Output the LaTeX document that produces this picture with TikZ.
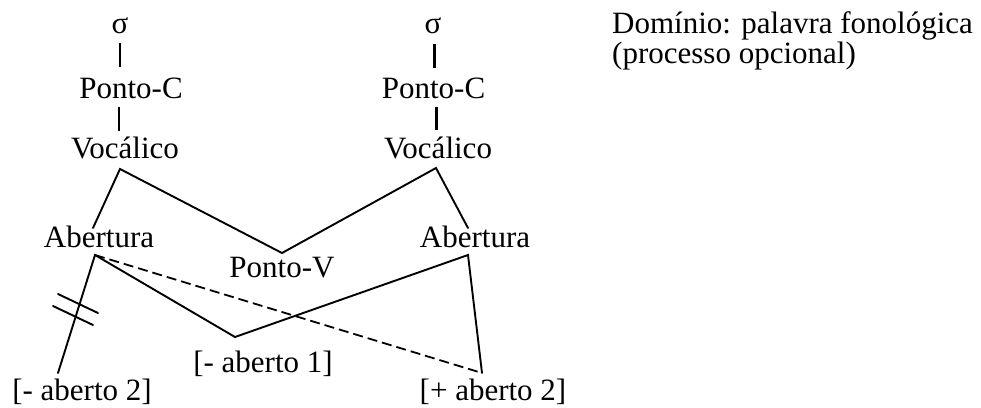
\documentclass[tikz,border=0pt]{standalone}
\usepackage{fontspec}
\setmainfont{Liberation Serif}
\begin{document}
\begin{tikzpicture}[x=1pt,y=-1pt,
  lbl/.style={anchor=base,inner sep=0pt,font=\fontsize{31}{30}\selectfont},
  ln/.style={line width=1.9pt,line cap=round},
  vln/.style={line width=2.4pt},
  dln/.style={line width=1.8pt,dash pattern=on 10pt off 5pt}]
\useasboundingbox (0,0) rectangle (981,407);
% left column
\node[lbl] (sigL) at (120,33) {σ};
\node[lbl] (pcL) at (131,98) {Ponto-C};
\node[lbl] (vocL) at (125,158) {Vocálico};
\node[lbl] (abL) at (99,247) {Abertura};
% right column
\node[lbl] (sigR) at (433,33) {σ};
\node[lbl] (pcR) at (433.5,98) {Ponto-C};
\node[lbl] (vocR) at (438,158) {Vocálico};
\node[lbl] (abR) at (475,247) {Abertura};
% middle and bottom
\node[lbl] (pv) at (282,277) {Ponto-V};
\node[lbl] (am1) at (263,372) {[- aberto 1]};
\node[lbl] (am2) at (82,400) {[- aberto 2]};
\node[lbl] (ap2) at (493,400) {[+ aberto 2]};
\node[lbl,anchor=base west] (dom1) at (612,33) {Domínio: palavra fonológica};
\node[lbl,anchor=base west] (dom2) at (612,63) {(processo opcional)};
% coordinates
\coordinate (sigLb) at (120,43);
\coordinate (pcLt) at (120,67);
\coordinate (pcLb) at (119,107);
\coordinate (vocLt) at (119,131);
\coordinate (sigRb) at (434,44);
\coordinate (pcRt) at (434,68);
\coordinate (pcRb) at (436,107);
\coordinate (vocRt) at (436,130);
\coordinate (vocLa) at (120,169);
\coordinate (vocRa) at (436,168);
\coordinate (abLt) at (93,228);
\coordinate (abRt) at (468,228);
\coordinate (pvA) at (282,253);
\coordinate (abLa) at (95,255);
\coordinate (abRa) at (468,255);
\coordinate (am1A) at (235,337);
\coordinate (am2A) at (58,373);
\coordinate (ap2A) at (482,373);
\coordinate (s1a) at (58,294);
\coordinate (s1b) at (98,313);
\coordinate (s2a) at (53,306);
\coordinate (s2b) at (93,325);
% verticals
\draw[vln] (sigLb) -- (pcLt);
\draw[vln] (pcLb) -- (vocLt);
\draw[vln,line width=3pt] (sigRb) -- (pcRt);
\draw[vln,line width=3pt] (pcRb) -- (vocRt);
% diagonals
\draw[ln] (abLt) -- (vocLa) -- (pvA) -- (vocRa) -- (abRt);
\draw[ln] (am2A) -- (abLa) -- (am1A) -- (abRa) -- (ap2A);
\draw[dln] (abLa) -- (ap2A);
\draw[ln] (s1a) -- (s1b);
\draw[ln] (s2a) -- (s2b);
\end{tikzpicture}
\end{document}
